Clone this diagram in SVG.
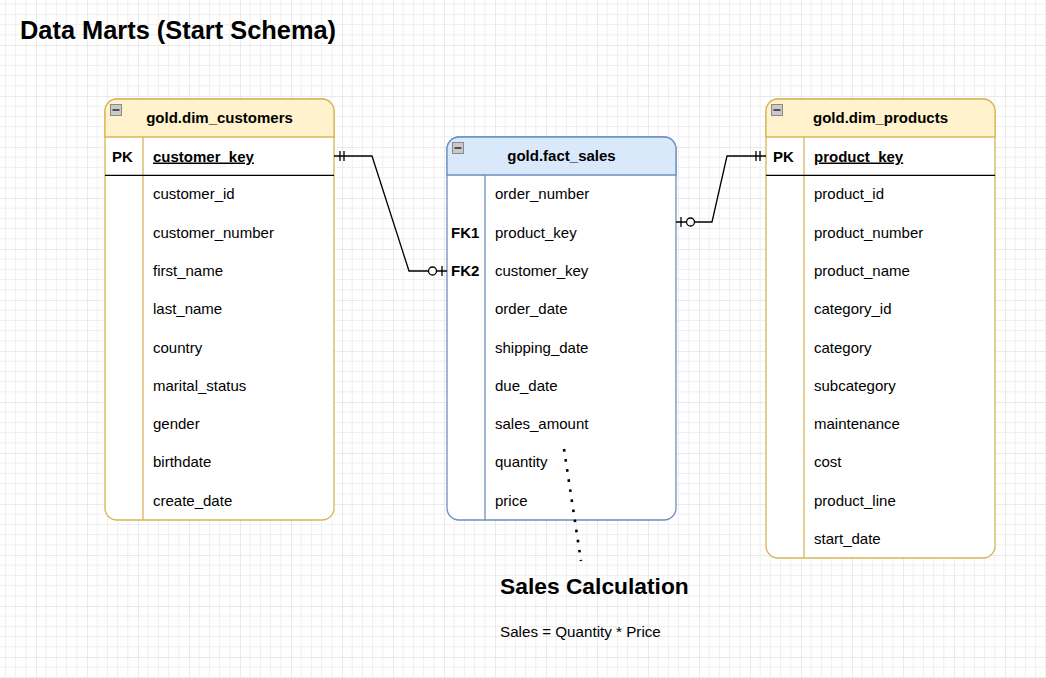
<svg xmlns="http://www.w3.org/2000/svg" width="1046" height="678" viewBox="0 0 1046 678">
  <style>
    text { font-family: "Liberation Sans", Arial, Helvetica, sans-serif; fill: #000; }
    .title { font-size: 25.4px; font-weight: bold; }
    .hdr { font-size: 15px; font-weight: bold; text-anchor: middle; }
    .row { font-size: 15px; }
    .key { font-size: 15px; font-weight: bold; }
    .pk { font-size: 15px; font-weight: bold; text-decoration: underline; }
    .calc { font-size: 22.8px; font-weight: bold; }
    .formula { font-size: 15.2px; }
    .body-y { fill: #ffffff; stroke: #d6b656; stroke-width: 1.3; }
    .head-y { fill: #fff2cc; stroke: #d6b656; stroke-width: 1.3; }
    .div-y { stroke: #d6b656; stroke-width: 1.3; }
    .body-b { fill: #ffffff; stroke: #6c8ebf; stroke-width: 1.3; }
    .head-b { fill: #dae8fc; stroke: #6c8ebf; stroke-width: 1.3; }
    .div-b { stroke: #6c8ebf; stroke-width: 1.3; }
    .sep { stroke: #000; stroke-width: 1.3; }
    .icon { fill: #c9c9c9; stroke: #8a8a8a; stroke-width: 1; }
    .icon-m { stroke: #333; stroke-width: 1.6; }
    .conn { fill: none; stroke: #000; stroke-width: 1.3; }
    .dots { fill: none; stroke: #000; stroke-width: 2.6; stroke-dasharray: 2.6 7.6; }
  </style>
  <defs>
    <pattern id="grid" x="36" y="45" width="51" height="51" patternUnits="userSpaceOnUse">
      <path d="M10.2 0V51M20.4 0V51M30.6 0V51M40.8 0V51M0 10.2H51M0 20.4H51M0 30.6H51M0 40.8H51" fill="none" stroke="#efefef" stroke-width="1"/>
      <path d="M0 0V51M0 0H51" fill="none" stroke="#d6d6d6" stroke-width="1"/>
    </pattern>
    <marker id="mandOne" markerUnits="userSpaceOnUse" markerWidth="20" markerHeight="20" refX="0" refY="0" orient="auto-start-reverse" overflow="visible">
      <path d="M-6,-5V5M-10,-5V5" fill="none" stroke="#000" stroke-width="1.3"/>
    </marker>
    <marker id="zeroOne" markerUnits="userSpaceOnUse" markerWidth="20" markerHeight="20" refX="0" refY="0" orient="auto-start-reverse" overflow="visible">
      <path d="M-5,-5V5" fill="none" stroke="#000" stroke-width="1.3"/>
      <circle cx="-14.5" cy="0" r="4" fill="#fff" stroke="#000" stroke-width="1.3"/>
    </marker>
  </defs>

  <rect width="1046" height="678" fill="#ffffff"/>
  <rect width="1046" height="678" fill="url(#grid)"/>

  <text id="title" class="title" x="20" y="38.5">Data Marts (Start Schema)</text>

  <g id="dim_customers">
    <rect class="body-y" x="105" y="99" width="229" height="421" rx="12"/>
    <path class="head-y" d="M105,137 V111 A12,12 0 0 1 117,99 H322 A12,12 0 0 1 334,111 V137 Z"/>
    <rect class="icon" x="110.5" y="104.5" width="11" height="11"/>
    <path class="icon-m" d="M112.5,110H119.5"/>
    <line class="div-y" x1="143" y1="137" x2="143" y2="520"/>
    <line class="sep" x1="105" y1="175.3" x2="334" y2="175.3"/>
    <text class="hdr" x="219.5" y="122.5">gold.dim_customers</text>
    <text class="key" x="112" y="161.5">PK</text>
    <text class="pk" x="153" y="161.5">customer_key</text>
    <text class="row" x="153" y="199.3">customer_id</text>
    <text class="row" x="153" y="237.6">customer_number</text>
    <text class="row" x="153" y="275.9">first_name</text>
    <text class="row" x="153" y="314.2">last_name</text>
    <text class="row" x="153" y="352.5">country</text>
    <text class="row" x="153" y="390.8">marital_status</text>
    <text class="row" x="153" y="429.1">gender</text>
    <text class="row" x="153" y="467.4">birthdate</text>
    <text class="row" x="153" y="505.7">create_date</text>
  </g>

  <g id="fact_sales">
    <rect class="body-b" x="447" y="137" width="229" height="383" rx="12"/>
    <path class="head-b" d="M447,175 V149 A12,12 0 0 1 459,137 H664 A12,12 0 0 1 676,149 V175 Z"/>
    <rect class="icon" x="452.5" y="142.5" width="11" height="11"/>
    <path class="icon-m" d="M454.5,148H461.5"/>
    <line class="div-b" x1="485" y1="175" x2="485" y2="520"/>
    <text class="hdr" x="561.5" y="161">gold.fact_sales</text>
    <text class="row" x="495" y="199.3">order_number</text>
    <text class="key" x="451" y="237.6">FK1</text>
    <text class="row" x="495" y="237.6">product_key</text>
    <text class="key" x="451" y="275.9">FK2</text>
    <text class="row" x="495" y="275.9">customer_key</text>
    <text class="row" x="495" y="314.2">order_date</text>
    <text class="row" x="495" y="352.5">shipping_date</text>
    <text class="row" x="495" y="390.8">due_date</text>
    <text class="row" x="495" y="429.1">sales_amount</text>
    <text class="row" x="495" y="467.4">quantity</text>
    <text class="row" x="495" y="505.7">price</text>
  </g>

  <g id="dim_products">
    <rect class="body-y" x="766" y="99" width="229" height="459" rx="12"/>
    <path class="head-y" d="M766,137 V111 A12,12 0 0 1 778,99 H983 A12,12 0 0 1 995,111 V137 Z"/>
    <rect class="icon" x="771.5" y="104.5" width="11" height="11"/>
    <path class="icon-m" d="M773.5,110H780.5"/>
    <line class="div-y" x1="804" y1="137" x2="804" y2="558"/>
    <line class="sep" x1="766" y1="175.3" x2="995" y2="175.3"/>
    <text class="hdr" x="880.5" y="122.5">gold.dim_products</text>
    <text class="key" x="773" y="161.5">PK</text>
    <text class="pk" x="814" y="161.5">product_key</text>
    <text class="row" x="814" y="199.3">product_id</text>
    <text class="row" x="814" y="237.6">product_number</text>
    <text class="row" x="814" y="275.9">product_name</text>
    <text class="row" x="814" y="314.2">category_id</text>
    <text class="row" x="814" y="352.5">category</text>
    <text class="row" x="814" y="390.8">subcategory</text>
    <text class="row" x="814" y="429.1">maintenance</text>
    <text class="row" x="814" y="467.4">cost</text>
    <text class="row" x="814" y="505.7">product_line</text>
    <text class="row" x="814" y="544">start_date</text>
  </g>

  <g id="sales_calculation">
    <text class="calc" x="500" y="594">Sales Calculation</text>
    <text class="formula" x="500" y="637">Sales = Quantity * Price</text>
  </g>

  <g id="connectors">
    <path class="conn" d="M334,156 L372,156 L409,271 L447,271" marker-start="url(#mandOne)" marker-end="url(#zeroOne)"/>
    <path class="conn" d="M676,222 L712,222 L727,156 L766,156" marker-start="url(#zeroOne)" marker-end="url(#mandOne)"/>
    <path class="dots" d="M564,449 L581,561"/>
  </g>
</svg>
